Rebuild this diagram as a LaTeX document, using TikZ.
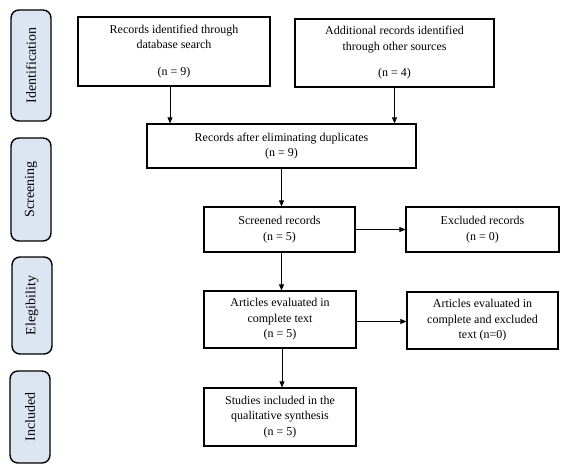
\documentclass[tikz,border=0pt]{standalone}
\usepackage{fontspec}
\setmainfont{Liberation Serif}
\usetikzlibrary{arrows.meta}
\definecolor{sidefill}{RGB}{220,230,242}
\tikzset{
  box/.style={draw=black, line width=1.2pt, fill=white, align=center, inner sep=2pt,
    font=\fontsize{12}{15.5}\selectfont},
  side/.style={draw=black, line width=1.4pt, fill=sidefill, rounded corners=8pt,
    rotate=90, inner sep=0pt, font=\fontsize{14}{16}\selectfont},
  arr/.style={-{Triangle[length=6pt,width=5pt]}, line width=0.8pt}
}
\begin{document}
\begin{tikzpicture}[x=1pt,y=-1pt]
\useasboundingbox[fill=white] (0,0) rectangle (567,473);
% side labels
\node[side, minimum width=111pt, minimum height=40pt] (s1) at (31,65.5) {Identification};
\node[side, minimum width=103pt, minimum height=40pt] (s2) at (31,189.5) {Screening};
\node[side, minimum width=97pt, minimum height=40pt] (s3) at (32,305.5) {Elegibility};
\node[side, minimum width=92pt, minimum height=40pt] (s4) at (30,417) {Included};
% boxes
\node[box, minimum width=192pt, minimum height=69pt] (b1) at (174,51.5)
  {Records identified through\\database search\\[11pt](n = 9)};
\node[box, minimum width=199pt, minimum height=68pt] (b2) at (394.5,53)
  {Additional records identified\\through other sources\\[11pt](n = 4)};
\node[box, minimum width=269pt, minimum height=44pt] (b3) at (281.5,146)
  {Records after eliminating duplicates\\(n = 9)};
\node[box, minimum width=151pt, minimum height=45pt] (b4) at (279.5,229.5)
  {Screened records\\(n = 5)};
\node[box, minimum width=153pt, minimum height=45pt] (b5) at (482.5,229.5)
  {Excluded records\\(n = 0)};
\node[box, minimum width=152pt, minimum height=57pt] (b6) at (280,319.5)
  {Articles evaluated in\\complete text\\(n = 5)};
\node[box, minimum width=151pt, minimum height=57pt] (b7) at (482.5,320.5)
  {Articles evaluated in\\complete and excluded\\text (n=0)};
\node[box, minimum width=152pt, minimum height=58pt] (b8) at (280,417)
  {Studies included in the\\qualitative synthesis\\(n = 5)};
% connectors
\draw[arr] ([xshift=-4pt]b1.south) -- ([xshift=-4pt]b1.south |- b3.north);
\draw[arr] (b2.south) -- (b2.south |- b3.north);
\draw[arr] (b3.south) -- (b3.south |- b4.north);
\draw[arr] (b4.east) -- (b4.east -| b5.west);
\draw[arr] ([xshift=2pt]b4.south) -- ([xshift=2pt]b4.south |- b6.north);
\draw[arr] ([yshift=-2pt]b6.east) -- ([yshift=-2pt]b6.east -| b7.west);
\draw[arr] ([xshift=2pt]b6.south) -- ([xshift=2pt]b6.south |- b8.north);
\end{tikzpicture}
\end{document}
